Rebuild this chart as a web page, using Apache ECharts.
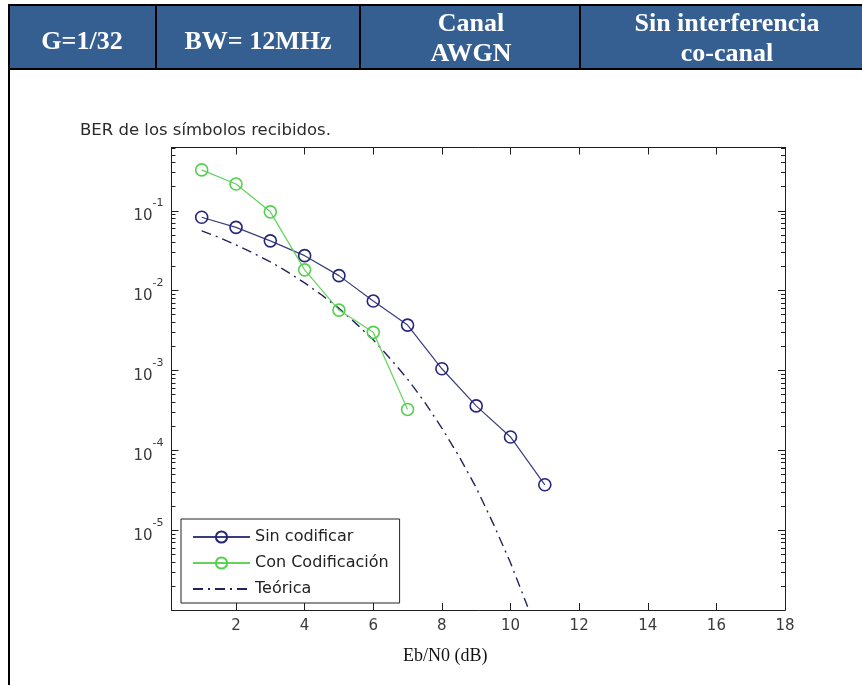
<!DOCTYPE html>
<html>
<head>
<meta charset="utf-8">
<script src="https://cdn.jsdelivr.net/npm/echarts@6/dist/echarts.min.js"></script>
<style>
html,body{margin:0;padding:0;background:#fff;}
#chart{width:862px;height:685px;}
</style>
</head>
<body>
<div id="chart"></div>
<script>
// ---- data ----
const headerCells = ['G=1/32', 'BW= 12MHz', 'Canal\nAWGN', 'Sin interferencia\nco-canal'];
const chartTitle = 'BER de los símbolos recibidos.';
const xAxisTitle = 'Eb/N0 (dB)';
const seriesNames = ['Sin codificar', 'Con Codificación', 'Teórica'];

const ebn0SinCod = [1, 2, 3, 4, 5, 6, 7, 8, 9, 10, 11];
const berSinCod = [0.083, 0.062, 0.042, 0.0274, 0.0154, 0.0074, 0.0037, 0.00105, 0.00036, 0.000147, 0.000037];

const ebn0ConCod = [1, 2, 3, 4, 5, 6, 7];
const berConCod = [0.325, 0.216, 0.097, 0.0182, 0.0057, 0.0030, 0.000325];

const ebn0Teo = [1, 1.5, 2, 2.5, 3, 3.5, 4, 4.5, 5, 5.5, 6, 6.5, 7, 7.5, 8, 8.5, 9, 9.5, 10, 10.5];
const berTeo = [0.056, 0.0464, 0.0375, 0.0296, 0.0229, 0.0172, 0.0125, 0.0088, 0.0060, 0.00386,
                0.00242, 0.0014, 0.00078, 0.0004, 0.00019, 0.000084, 0.000034, 0.000012, 0.0000039, 0.0000011];

const xTicks = [2, 4, 6, 8, 10, 12, 14, 16, 18];
const yMajorTicks = [1e-6, 1e-5, 1e-4, 1e-3, 1e-2, 1e-1];
const yLabelTicks = [1e-5, 1e-4, 1e-3, 1e-2, 1e-1];
const yMinorTicks = [
  2e-6, 3e-6, 4e-6, 5e-6, 6e-6, 7e-6, 8e-6, 9e-6,
  2e-5, 3e-5, 4e-5, 5e-5, 6e-5, 7e-5, 8e-5, 9e-5,
  2e-4, 3e-4, 4e-4, 5e-4, 6e-4, 7e-4, 8e-4, 9e-4,
  2e-3, 3e-3, 4e-3, 5e-3, 6e-3, 7e-3, 8e-3, 9e-3,
  2e-2, 3e-2, 4e-2, 5e-2, 6e-2, 7e-2, 8e-2, 9e-2,
  2e-1, 3e-1, 4e-1, 5e-1, 6e-1
];
const xMin = 0.12, xMax = 18;
const yMin = 1e-6, yMax = 0.62;

// ---- chart ----
const chart = echarts.init(document.getElementById('chart'), null, {renderer: 'canvas'});
const axisColor = '#1e1e1e';
const tickLabelColor = '#3a3a3a';
const sansFont = 'DejaVu Sans';

function pairs(xs, ys) { return xs.map((x, i) => [x, ys[i]]); }

function xAxisCfg(pos, withLabels) {
  return {
    type: 'value', min: xMin, max: xMax, position: pos, gridIndex: 0,
    axisLine: {show: true, onZero: false, lineStyle: {color: axisColor, width: 1}},
    axisTick: {show: true, inside: true, length: 7, customValues: xTicks, lineStyle: {color: axisColor}},
    axisLabel: withLabels ? {show: true, customValues: xTicks, margin: 9, color: tickLabelColor,
      fontFamily: sansFont, fontSize: 15} : {show: false},
    splitLine: {show: false},
    name: withLabels ? xAxisTitle : '',
    nameLocation: 'middle', nameGap: 37,
    nameTextStyle: {fontFamily: 'Liberation Serif', fontSize: 18, color: '#111', padding: [0, 66, 0, 0]}
  };
}
function yAxisCfg(pos, ticks, len, withLabels) {
  return {
    type: 'log', logBase: 10, min: yMin, max: yMax, position: pos, gridIndex: 0,
    axisLine: {show: true, lineStyle: {color: axisColor, width: 1}},
    axisTick: {show: true, inside: true, length: len, customValues: ticks, lineStyle: {color: axisColor}},
    axisLabel: withLabels ? {
      show: true, customValues: yLabelTicks, margin: 8, color: tickLabelColor,
      formatter: v => '{b|10}{s|' + Math.round(Math.log10(v)) + '}',
      rich: {
        b: {fontFamily: sansFont, fontSize: 15, lineHeight: 26, verticalAlign: 'bottom', color: tickLabelColor},
        s: {fontFamily: sansFont, fontSize: 11, lineHeight: 11, verticalAlign: 'top', color: tickLabelColor}
      }
    } : {show: false},
    splitLine: {show: false},
    minorTick: {show: false}
  };
}

const headerFont = 'bold 26px "Liberation Serif"';

const option = {
  animation: false,
  backgroundColor: '#ffffff',
  title: {
    text: chartTitle, left: 75, top: 117,
    textStyle: {fontFamily: sansFont, fontSize: 16.5, fontWeight: 'normal', color: '#2a2a2a'}
  },
  grid: {left: 171.5, right: 77, top: 147.5, bottom: 75, containLabel: false},
  xAxis: [xAxisCfg('bottom', true), xAxisCfg('top', false)],
  yAxis: [
    yAxisCfg('left', yMajorTicks, 7, true),
    yAxisCfg('left', yMinorTicks, 4, false),
    yAxisCfg('right', yMajorTicks, 7, false),
    yAxisCfg('right', yMinorTicks, 4, false)
  ],
  legend: {
    orient: 'vertical', left: 181, top: 519,
    itemWidth: 57, itemHeight: 14, itemGap: 10,
    padding: [10, 11, 6, 11],
    backgroundColor: '#ffffff', borderColor: '#222222', borderWidth: 1,
    textStyle: {fontFamily: sansFont, fontSize: 16, color: '#222222'},
    data: seriesNames
  },
  series: [
    {
      type: 'line', name: seriesNames[0], xAxisIndex: 0, yAxisIndex: 0,
      data: pairs(ebn0SinCod, berSinCod),
      symbol: 'circle', symbolSize: 12,
      lineStyle: {color: '#3c3c7e', width: 1.2},
      itemStyle: {color: 'rgba(255,255,255,0)', borderColor: '#25257a', borderWidth: 1.6},
      z: 3
    },
    {
      type: 'line', name: seriesNames[1], xAxisIndex: 0, yAxisIndex: 0,
      data: pairs(ebn0ConCod, berConCod),
      symbol: 'circle', symbolSize: 12,
      lineStyle: {color: '#62d45c', width: 1.2},
      itemStyle: {color: 'rgba(255,255,255,0)', borderColor: '#55cf50', borderWidth: 1.6},
      z: 4
    },
    {
      type: 'line', name: seriesNames[2], xAxisIndex: 0, yAxisIndex: 0,
      data: pairs(ebn0Teo, berTeo),
      symbol: 'none', smooth: false,
      lineStyle: {color: '#232360', width: 1.4, type: [10, 5, 2, 5]},
      itemStyle: {color: 'rgba(0,0,0,0)', borderWidth: 0, borderColor: 'rgba(0,0,0,0)'},
      z: 2
    }
  ],
  graphic: [
    {type: 'rect', silent: true, z: 0, shape: {x: 10, y: 6, width: 852, height: 62}, style: {fill: '#365F91'}},
    {type: 'rect', silent: true, z: 1, shape: {x: 8, y: 4, width: 854, height: 2}, style: {fill: '#000'}},
    {type: 'rect', silent: true, z: 1, shape: {x: 8, y: 4, width: 2, height: 681}, style: {fill: '#000'}},
    {type: 'rect', silent: true, z: 1, shape: {x: 8, y: 68, width: 854, height: 2}, style: {fill: '#000'}},
    {type: 'rect', silent: true, z: 1, shape: {x: 155, y: 5, width: 2, height: 64}, style: {fill: '#000'}},
    {type: 'rect', silent: true, z: 1, shape: {x: 359, y: 5, width: 2, height: 64}, style: {fill: '#000'}},
    {type: 'rect', silent: true, z: 1, shape: {x: 579, y: 5, width: 2, height: 64}, style: {fill: '#000'}},
    {type: 'text', silent: true, z: 2, x: 82, y: 42, style: {text: headerCells[0], fill: '#fff', font: headerFont, align: 'center', verticalAlign: 'middle'}},
    {type: 'text', silent: true, z: 2, x: 258, y: 42, style: {text: headerCells[1], fill: '#fff', font: headerFont, align: 'center', verticalAlign: 'middle'}},
    {type: 'text', silent: true, z: 2, x: 471, y: 39, style: {text: headerCells[2], fill: '#fff', font: headerFont, align: 'center', verticalAlign: 'middle', lineHeight: 30}},
    {type: 'text', silent: true, z: 2, x: 727, y: 39, style: {text: headerCells[3], fill: '#fff', font: headerFont, align: 'center', verticalAlign: 'middle', lineHeight: 30}}
  ]
};
chart.setOption(option);
</script>
</body>
</html>
